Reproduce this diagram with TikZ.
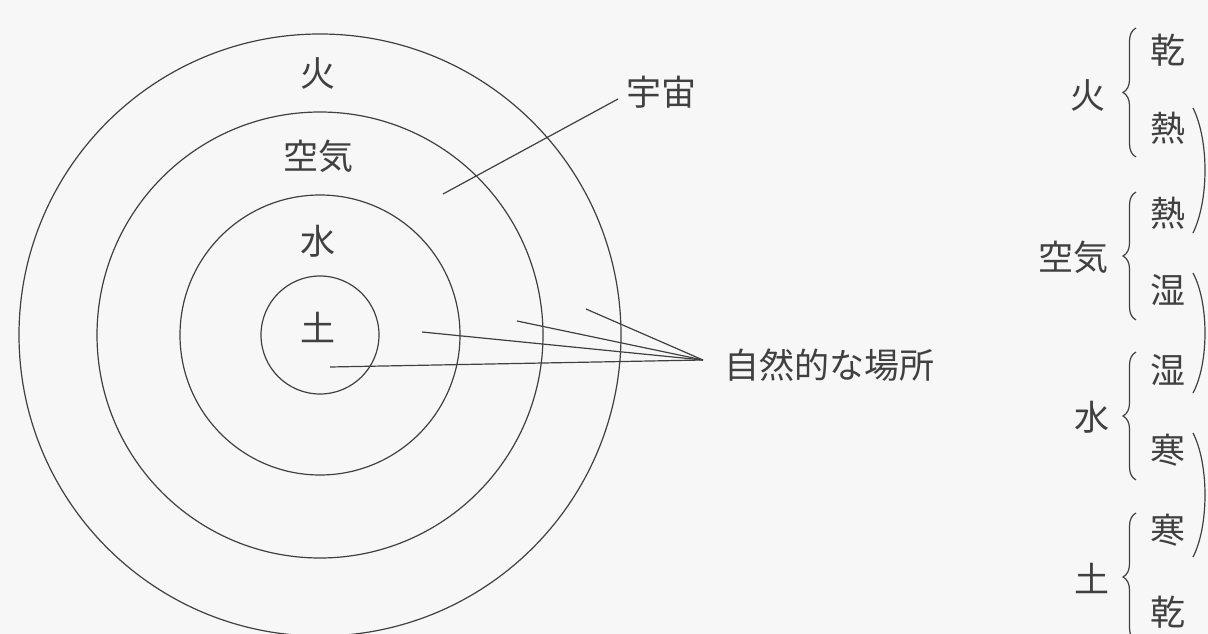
\documentclass[tikz,border=0pt]{standalone}
\usepackage{fontspec}
\setmainfont{Noto Sans CJK JP}
\usetikzlibrary{decorations.pathreplacing}
\definecolor{ink}{HTML}{404040}
\definecolor{bg}{HTML}{F7F7F7}
\begin{document}
\begin{tikzpicture}[x=1pt,y=-1pt,
  lbl/.style={font=\fontsize{35}{38}\selectfont, text=ink, inner sep=0pt},
  ln/.style={draw=ink, line width=1.2pt},
  brc/.style={ln, decorate, decoration={brace, amplitude=13pt}},
]
\useasboundingbox[fill=bg] (0,0) rectangle (1208,634);

% concentric circles
\coordinate (c) at (320,335);
\draw[ln] (c) circle[radius=301pt];
\draw[ln] (c) circle[radius=223pt];
\draw[ln] (c) circle[radius=140pt];
\draw[ln] (c) circle[radius=59pt];

% labels in the circles
\node[lbl] (fire)  at (318,73)  {火};
\node[lbl] (air)   at (318,156) {空気};
\node[lbl] (water) at (318,241) {水};
\node[lbl] (earth) at (318,327) {土};

% universe label
\node[lbl, anchor=west] (uchu) at (626,92) {宇宙};
\coordinate (u0) at (443,194);
\coordinate (u1) at (618,99);
\draw[ln] (u0) -- (u1);

% natural places
\node[lbl, anchor=west] (place) at (724,365) {自然的な場所};
\coordinate (conv) at (703,360);
\coordinate (p1) at (586,309);
\coordinate (p2) at (517,321);
\coordinate (p3) at (422,332);
\coordinate (p4) at (330,367);
\draw[ln] (p1) -- (conv);
\draw[ln] (p2) -- (conv);
\draw[ln] (p3) -- (conv);
\draw[ln] (p4) -- (conv);

% right column: elements
\node[lbl] (rfire)  at (1088,95)  {火};
\node[lbl] (rair)   at (1073,257) {空気};
\node[lbl] (rwater) at (1092,417) {水};
\node[lbl] (rearth) at (1092,578) {土};

% qualities
\node[lbl] (q1) at (1168,50)  {乾};
\node[lbl] (q2) at (1168,128) {熱};
\node[lbl] (q3) at (1168,213) {熱};
\node[lbl] (q4) at (1168,290) {湿};
\node[lbl] (q5) at (1168,370) {湿};
\node[lbl] (q6) at (1168,450) {寒};
\node[lbl] (q7) at (1168,530) {寒};
\node[lbl] (q8) at (1168,612) {乾};

% braces
\coordinate (b1a) at (1136,157); \coordinate (b1b) at (1136,28);
\coordinate (b2a) at (1136,320); \coordinate (b2b) at (1136,192);
\coordinate (b3a) at (1136,480); \coordinate (b3b) at (1136,352);
\coordinate (b4a) at (1136,641); \coordinate (b4b) at (1136,513);
\draw[brc] (b1a) -- (b1b);
\draw[brc] (b2a) -- (b2b);
\draw[brc] (b3a) -- (b3b);
\draw[brc] (b4a) -- (b4b);

% right parentheses linking shared qualities
\coordinate (r1a) at (1193,108); \coordinate (r1b) at (1193,233);
\coordinate (r2a) at (1193,273); \coordinate (r2b) at (1193,393);
\coordinate (r3a) at (1193,433); \coordinate (r3b) at (1193,557);
\draw[ln] (r1a) .. controls (1209,140) and (1209,200) .. (r1b);
\draw[ln] (r2a) .. controls (1209,303) and (1209,363) .. (r2b);
\draw[ln] (r3a) .. controls (1209,464) and (1209,526) .. (r3b);
\end{tikzpicture}
\end{document}
